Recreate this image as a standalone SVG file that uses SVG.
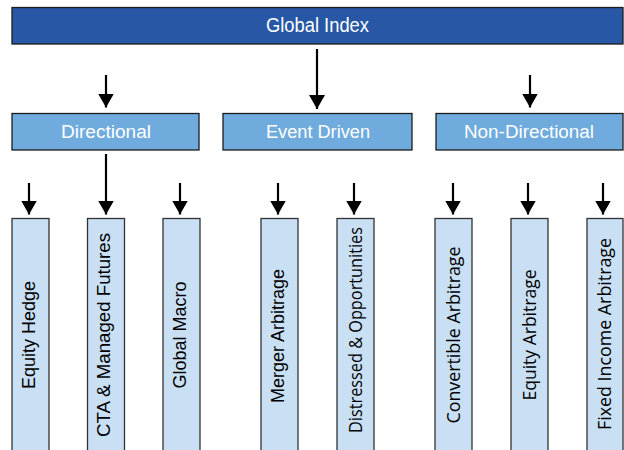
<svg xmlns="http://www.w3.org/2000/svg" width="624" height="450" viewBox="0 0 624 450">
  <defs>
    <marker id="head" viewBox="0 0 14 16" refX="14" refY="8" markerWidth="14" markerHeight="16" markerUnits="userSpaceOnUse" orient="auto">
      <path d="M0,0 L14,8 L0,16 Z" fill="#000"/>
    </marker>
    <style>
      .root { fill: #2757a5; stroke: #1c1c1c; stroke-width: 1.3; }
      .cat { fill: #6fabdd; stroke: #1c1c1c; stroke-width: 1.3; }
      .leaf { fill: #c9dff3; stroke: #333; stroke-width: 1.3; }
      .hdr { font-family: "Liberation Sans", Arial, sans-serif; fill: #fff; text-anchor: middle; }
      .lbl { font-family: "Liberation Sans", Arial, sans-serif; font-size: 18px; fill: #000; text-anchor: middle; }
      .lbl2 { font-family: "Open Sans", "Noto Sans", sans-serif; font-size: 19px; fill: #000; text-anchor: middle; }
      .conn line { stroke: #000; stroke-width: 2.2; marker-end: url(#head); }
    </style>
  </defs>

  <!-- top level -->
  <g id="global-index">
    <rect class="root" x="12" y="7.5" width="611" height="36.5"/>
    <text class="hdr" x="317.5" y="31.5" font-size="20" textLength="103" lengthAdjust="spacingAndGlyphs">Global Index</text>
  </g>

  <!-- strategy groups -->
  <g id="directional">
    <rect class="cat" x="12" y="113.5" width="187" height="36.5"/>
    <text class="hdr" x="106" y="137.5" font-size="18" textLength="90" lengthAdjust="spacingAndGlyphs">Directional</text>
  </g>
  <g id="event-driven">
    <rect class="cat" x="223" y="113.5" width="189" height="36.5"/>
    <text class="hdr" x="318" y="137.5" font-size="18" textLength="104" lengthAdjust="spacingAndGlyphs">Event Driven</text>
  </g>
  <g id="non-directional">
    <rect class="cat" x="436" y="113.5" width="187" height="36.5"/>
    <text class="hdr" x="529" y="137.5" font-size="18" textLength="130" lengthAdjust="spacingAndGlyphs">Non-Directional</text>
  </g>

  <!-- individual strategies -->
  <g id="equity-hedge">
    <rect class="leaf" x="12" y="218.5" width="37" height="240"/>
    <text class="lbl" transform="translate(35,335) rotate(-90)">Equity Hedge</text>
  </g>
  <g id="cta-managed-futures">
    <rect class="leaf" x="87.5" y="218.5" width="37" height="240"/>
    <text class="lbl" transform="translate(110,335) rotate(-90)" textLength="204" lengthAdjust="spacingAndGlyphs">CTA &amp; Managed Futures</text>
  </g>
  <g id="global-macro">
    <rect class="leaf" x="163" y="218.5" width="37" height="240"/>
    <text class="lbl" transform="translate(186,335) rotate(-90)">Global Macro</text>
  </g>
  <g id="merger-arbitrage">
    <rect class="leaf" x="261" y="218.5" width="37" height="240"/>
    <text class="lbl" transform="translate(284,336) rotate(-90)">Merger Arbitrage</text>
  </g>
  <g id="distressed-opportunities">
    <rect class="leaf" x="337" y="218.5" width="37" height="240"/>
    <text class="lbl2" transform="translate(362,330) rotate(-90)" textLength="206" lengthAdjust="spacingAndGlyphs">Distressed &amp; Opportunities</text>
  </g>
  <g id="convertible-arbitrage">
    <rect class="leaf" x="435" y="218.5" width="37" height="240"/>
    <text class="lbl2" transform="translate(460,335) rotate(-90)" textLength="177" lengthAdjust="spacingAndGlyphs">Convertible Arbitrage</text>
  </g>
  <g id="equity-arbitrage">
    <rect class="leaf" x="511" y="218.5" width="37" height="240"/>
    <text class="lbl2" transform="translate(536,335) rotate(-90)" textLength="131" lengthAdjust="spacingAndGlyphs">Equity Arbitrage</text>
  </g>
  <g id="fixed-income-arbitrage">
    <rect class="leaf" x="587" y="218.5" width="36" height="240"/>
    <text class="lbl2" transform="translate(611,334) rotate(-90)" textLength="192" lengthAdjust="spacingAndGlyphs">Fixed Income Arbitrage</text>
  </g>

  <!-- connectors -->
  <g id="connectors" class="conn">
    <line x1="106" y1="75" x2="106" y2="107.5"/>
    <line x1="317" y1="49" x2="317" y2="109"/>
    <line x1="530" y1="75" x2="530" y2="107.5"/>

    <line x1="29" y1="183" x2="29" y2="214.5"/>
    <line x1="106" y1="154" x2="106" y2="214.5"/>
    <line x1="180" y1="183" x2="180" y2="214.5"/>
    <line x1="278" y1="183" x2="278" y2="214.5"/>
    <line x1="354" y1="183" x2="354" y2="214.5"/>
    <line x1="453" y1="183" x2="453" y2="214.5"/>
    <line x1="528" y1="183" x2="528" y2="214.5"/>
    <line x1="603" y1="183" x2="603" y2="214.5"/>
  </g>
</svg>
